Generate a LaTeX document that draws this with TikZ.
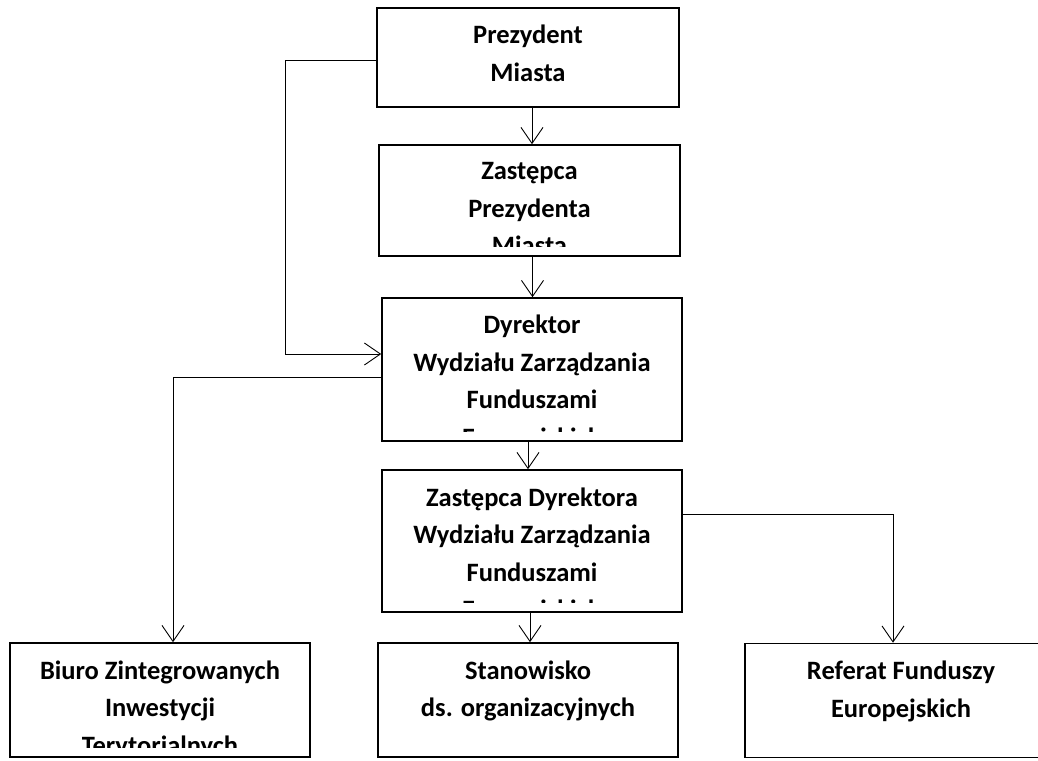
\documentclass[tikz,border=0pt]{standalone}
\usepackage{fontspec}
\setmainfont{Carlito}
\usetikzlibrary{arrows.meta}

\tikzset{
	orgbox/.style={draw, line width=1.6pt, inner sep=0pt},
	boxtext/.style={inner sep=0pt, align=center, font=\fontsize{26.5}{37.5}\selectfont\bfseries},
	arr/.style={-{Straight Barb[length=16pt,width=22pt]}, line width=0.9pt}
}
% tekst w ramce, obciety przy dolnej krawedzi
\newcommand{\orgtext}[2]{%
	\begin{scope}
		\clip (#1.north west) rectangle ([yshift=10pt]#1.south east);
		\node[boxtext, anchor=north] (#1-t) at ([yshift=-18pt]#1.north) {#2};
	\end{scope}}

\begin{document}
\begin{tikzpicture}[x=1pt,y=-1pt]
		\useasboundingbox (0,0) rectangle (1038,760);
		\node[orgbox, minimum width=302pt, minimum height=99pt] (prez) at (528,57.5) {};
		\node[orgbox, minimum width=301pt, minimum height=111pt] (zast) at (529.5,200.5) {};
		\node[orgbox, minimum width=300pt, minimum height=143pt] (dyr) at (532,369.5) {};
		\node[orgbox, minimum width=300pt, minimum height=142pt] (zdyr) at (532,541) {};
		\node[orgbox, minimum width=300pt, minimum height=114pt] (biuro) at (160,700) {};
		\node[orgbox, minimum width=300pt, minimum height=114pt] (stan) at (528,700) {};
		\node[orgbox, minimum width=312pt, minimum height=114pt] (ref) at (901,700.5) {};
		\orgtext{prez}{Prezydent\\Miasta}
		\orgtext{zast}{Zastępca\\Prezydenta\\Miasta}
		\orgtext{dyr}{Dyrektor\\Wydziału Zarządzania\\Funduszami\\Europejskich}
		\orgtext{zdyr}{Zastępca Dyrektora\\Wydziału Zarządzania\\Funduszami\\Europejskich}
		\orgtext{biuro}{Biuro Zintegrowanych\\Inwestycji\\Terytorialnych}
		\orgtext{stan}{Stanowisko\\ds. organizacyjnych}
		\orgtext{ref}{Referat Funduszy\\Europejskich}
		% lacznik do biura i referatu
		\coordinate (kl) at (285,60);
		\coordinate (ka) at (285,354);
		\coordinate (kb) at (173,377);
		\coordinate (kr) at (893,514);
		\draw[arr] ([xshift=4pt]prez.south) -- ([xshift=4pt]prez.south |- zast.north);
		\draw[arr] ([xshift=3pt]zast.south) -- ([xshift=3pt]zast.south |- dyr.north);
		\draw[arr] ([xshift=-4pt]dyr.south) -- ([xshift=-4pt]dyr.south |- zdyr.north);
		\draw[arr] ([xshift=-2pt]zdyr.south) -- ([xshift=-2pt]zdyr.south |- stan.north);
		\draw[arr] (prez.west |- kl) -- (kl) -- (ka) -- (dyr.west |- ka);
		\draw[arr] (dyr.west |- kb) -- (kb) -- (kb |- biuro.north);
		\draw[arr] (zdyr.east |- kr) -- (kr) -- (kr |- ref.north);
	\end{tikzpicture}
\end{document}
